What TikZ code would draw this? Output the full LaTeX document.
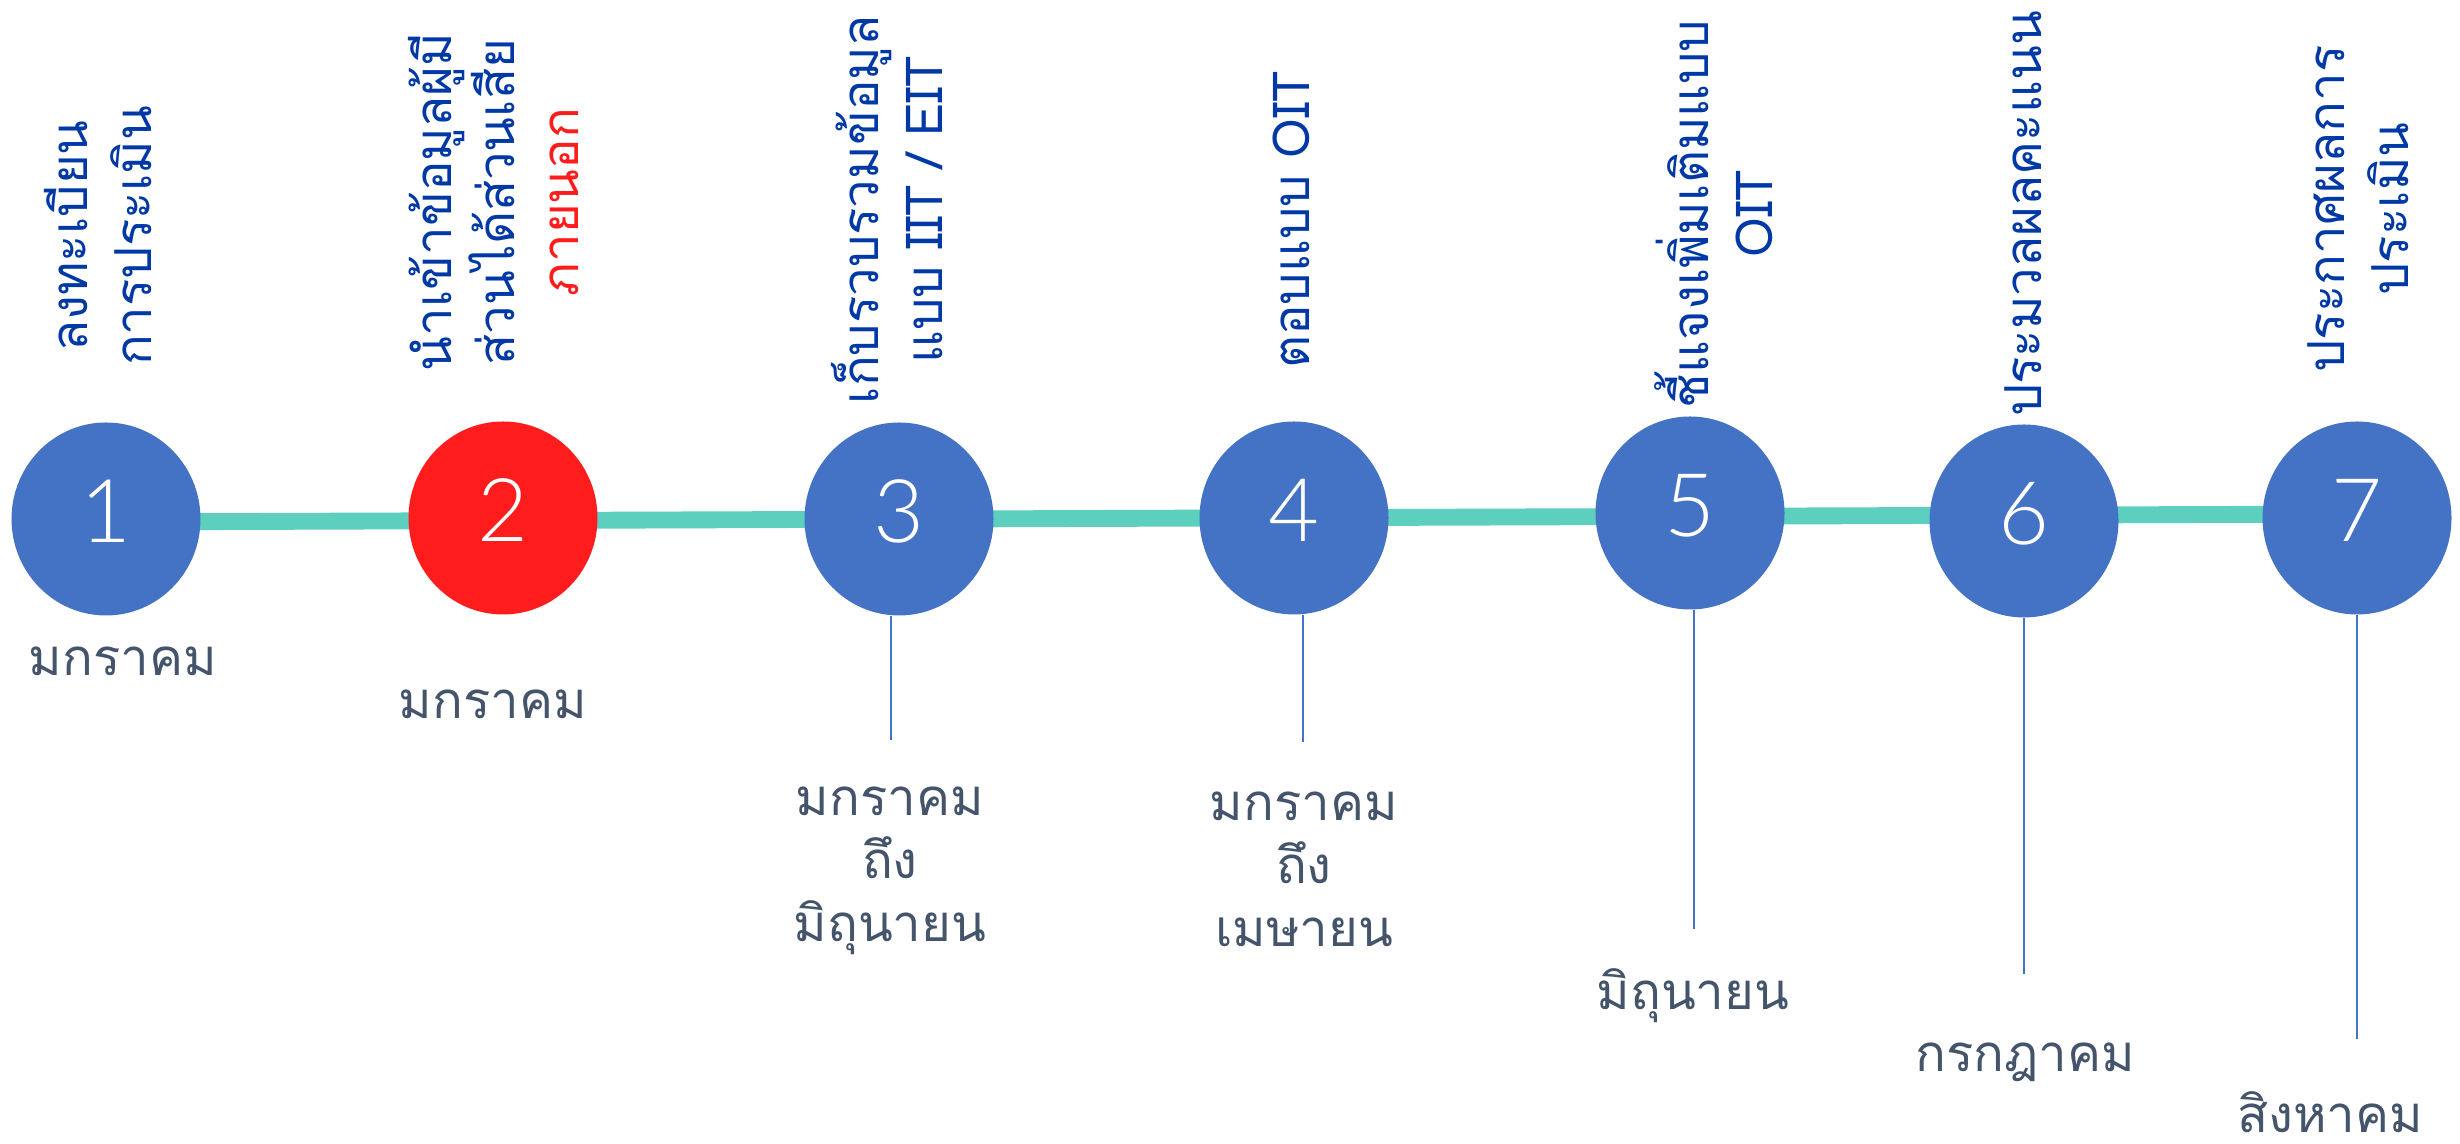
\documentclass[tikz,border=0pt]{standalone}
\usepackage{fontspec}
\setmainfont{Loma}[Script=Thai]
\newfontfamily\numfont{Lato Light}
\usetikzlibrary{positioning, shapes.geometric}
\definecolor{dotblue}{HTML}{4472C4}
\definecolor{dotred}{HTML}{FF1C1C}
\definecolor{railteal}{HTML}{5CCFBF}
\definecolor{titleblue}{HTML}{0039A6}
\definecolor{dategray}{HTML}{44546A}

\begin{document}
\begin{tikzpicture}[
    dot/.style={ellipse, fill=dotblue, minimum width=1.89cm, minimum height=1.93cm,
                inner sep=0pt, text=white, text depth=0.16cm,
                font=\numfont\fontsize{25}{25}\selectfont},
    title/.style={rotate=90, anchor=south, inner sep=0pt, align=center,
                  text=titleblue, font=\fontsize{14.5}{18}\selectfont},
    when/.style={anchor=north, inner sep=0pt, align=center,
                 text=dategray, font=\fontsize{14.5}{18}\selectfont},
    stem/.style={dotblue, line width=0.6pt},
    rail/.style={railteal, line width=4.8pt},
]
\useasboundingbox (0,0) rectangle (24.6,11.44);

% timeline behind the dots
\coordinate (railL) at (1.06,6.22);
\coordinate (railR) at (23.57,6.30);
\draw[rail] (railL) -- (railR);

\node[dot] (c1) at (1.06,6.25) {1};
\node[dot, fill=dotred] (c2) at (5.03,6.26) {2};
\node[dot] (c3) at (8.99,6.25) {3};
\node[dot] (c4) at (12.94,6.26) {4};
\node[dot] (c5) at (16.90,6.31) {5};
\node[dot] (c6) at (20.24,6.23) {6};
\node[dot] (c7) at (23.57,6.26) {7};

% steps, written upwards
\node[title] (t1) at (1.52,9.08) {ลงทะเบียน\\การประเมิน};
\node[title] (t2) at (5.79,9.42) {นำเข้าข้อมูลผู้มี\\ส่วนได้ส่วนเสีย\\\textcolor{dotred}{ภายนอก}};
\node[title] (t3) at (9.43,9.34) {เก็บรวบรวมข้อมูล\\แบบ IIT / EIT};
\node[title] (t4) at (13.10,9.24) {ตอบแบบ OIT};
\node[title] (t5) at (17.73,9.30) {ชี้แจงเพิ่มเติมแบบ\\OIT};
\node[title] (t6) at (20.42,9.30) {ประมวลผลคะแนน};
\node[title] (t7) at (24.09,9.35) {ประกาศผลการ\\ประเมิน};

% months
\node[when] (d1) at (1.23,4.98) {มกราคม};
\node[when] (d2) at (4.93,4.55) {มกราคม};
\node[when] (d3) at (8.90,3.58) {มกราคม\\ถึง\\มิถุนายน};
\node[when] (d4) at (13.04,3.53) {มกราคม\\ถึง\\เมษายน};
\node[when] (d5) at (16.93,1.76) {มิถุนายน};
\node[when] (d6) at (20.25,1.02) {กรกฎาคม};
\node[when] (d7) at (23.30,0.53) {สิงหาคม};

\coordinate (s3) at (8.91,4.04);
\coordinate (s4) at (13.03,4.02);
\coordinate (s5) at (16.94,2.15);
\coordinate (s6) at (20.24,1.70);
\coordinate (s7) at (23.57,1.05);
\draw[stem] (c3.south -| s3) -- (s3);
\draw[stem] (c4.south -| s4) -- (s4);
\draw[stem] (c5.south -| s5) -- (s5);
\draw[stem] (c6.south -| s6) -- (s6);
\draw[stem] (c7.south -| s7) -- (s7);
\end{tikzpicture}
\end{document}
